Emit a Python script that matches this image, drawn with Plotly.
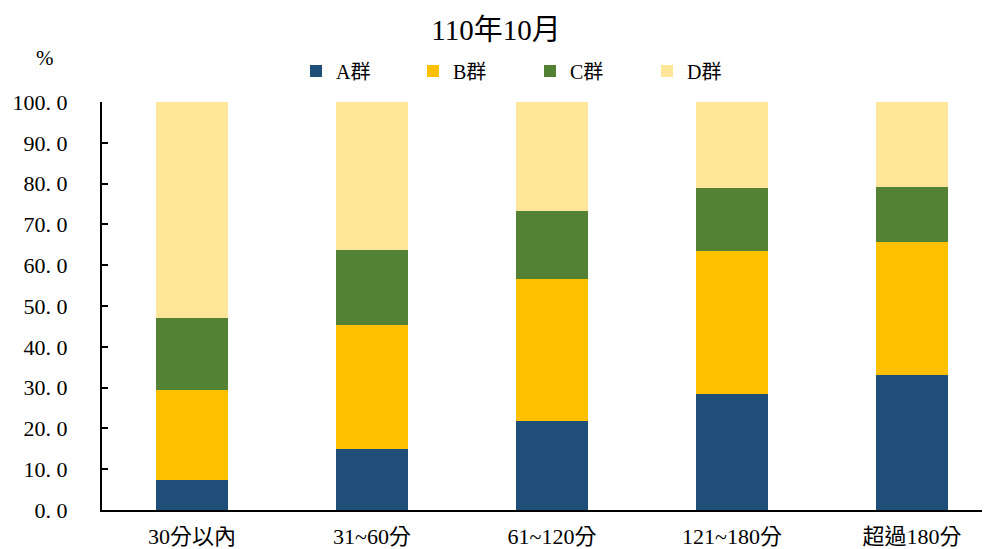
import plotly.graph_objects as go

categories = ["30分以內", "31~60分", "61~120分", "121~180分", "超過180分"]
series_names = ["A群", "B群", "C群", "D群"]
group_a = [7.4, 15.0, 21.8, 28.4, 33.1]
group_b = [22.0, 30.3, 34.8, 35.1, 32.6]
group_c = [17.7, 18.4, 16.7, 15.4, 13.5]
group_d = [52.9, 36.3, 26.7, 21.1, 20.8]
y_ticks = [0, 10, 20, 30, 40, 50, 60, 70, 80, 90, 100]
colors = ["#1F4E79", "#FFC000", "#548235", "#FFE699"]

FONT = "Liberation Serif, Noto Sans CJK TC, serif"

# page has an 8px body margin; figure is sized to fit the 990x549 window
W, H = 982, 541
ML, MR, MT, MB = 94, 2, 94, 39
PW, PH = W - ML - MR, H - MT - MB

fig = go.Figure()
for name, vals, col in zip(series_names, [group_a, group_b, group_c, group_d], colors):
    fig.add_trace(go.Bar(
        x=list(range(len(categories))), y=vals, name=name,
        marker=dict(color=col, line=dict(width=0)), width=0.4,
    ))

fig.update_layout(
    barmode="stack",
    width=W, height=H,
    margin=dict(l=ML, r=MR, t=MT, b=MB, autoexpand=False),
    paper_bgcolor="white", plot_bgcolor="white",
    font=dict(family=FONT, color="black", size=22),
    title=dict(text="110年10月", x=(496 - 8) / W, xanchor="center",
               y=1 - 22 / H, yanchor="middle", font=dict(size=29, family=FONT)),
    showlegend=True,
    legend=dict(orientation="h", x=(288 - ML) / PW, xanchor="left",
                y=(MT + PH - 63) / PH, yanchor="middle",
                font=dict(size=20, family=FONT), entrywidth=72, entrywidthmode="pixels",
                traceorder="normal", itemwidth=30, bgcolor="rgba(0,0,0,0)"),
    annotations=[dict(text="%", xref="paper", yref="paper",
                      x=(37 - ML) / PW, y=(MT + PH - 50) / PH,
                      xanchor="center", yanchor="middle", showarrow=False,
                      font=dict(size=21, family=FONT))],
)

fig.update_xaxes(
    tickmode="array", tickvals=list(range(len(categories))), ticktext=categories,
    range=[-0.5, -0.5 + PW / 180], showline=True, linecolor="black", linewidth=2,
    ticks="", showgrid=False, zeroline=False, ticklabelstandoff=6,
    tickfont=dict(size=22, family=FONT),
)
fig.update_yaxes(
    range=[0, 100], tickmode="array", tickvals=y_ticks,
    ticktext=[f"{v:.1f}".replace(".", ". ") for v in y_ticks],
    showline=True, linecolor="black", linewidth=2, ticks="inside", ticklen=6,
    tickcolor="black", tickwidth=2, showgrid=False, zeroline=False,
    ticklabelstandoff=28, tickfont=dict(size=22, family=FONT),
)

fig.write_html("out.html")
